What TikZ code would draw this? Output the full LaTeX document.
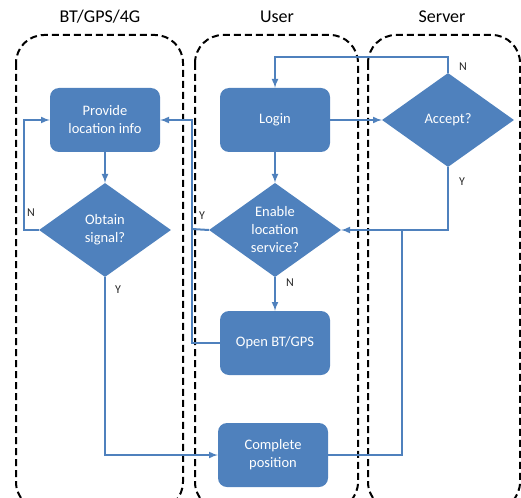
\documentclass[tikz,border=0pt]{standalone}
\usepackage{fontspec}
\setmainfont{Carlito}
\usetikzlibrary{shapes.geometric,arrows}
\begin{document}
\begin{tikzpicture}[x=1pt,y=-1pt,
  lane/.style={black,line width=2pt,dash pattern=on 7pt off 4pt,rounded corners=28pt},
  procbox/.style={fill=boxblue,rounded corners=9pt,minimum width=110pt,minimum height=64pt,text=white,align=center,font=\fontsize{14.5}{18}\selectfont},
  decide/.style={diamond,fill=boxblue,minimum width=132pt,minimum height=94pt,inner sep=0pt,text=white,align=center,font=\fontsize{14.5}{18}\selectfont},
  flow/.style={boxblue,line width=2pt,-latex},
  link/.style={boxblue,line width=2pt},
  yn/.style={text=black!85,font=\fontsize{12}{14}\selectfont},
  lanetitle/.style={font=\fontsize{18}{21}\selectfont}]
  \definecolor{boxblue}{HTML}{4F81BD}
  \useasboundingbox (0,0) rectangle (521,497);
  \clip (0,0) rectangle (521,497);
  \draw [lane] (16,35) rectangle (183,510);
  \draw [lane] (195,35) rectangle (358,510);
  \draw [lane] (368,35) rectangle (520,510);
  \node [lanetitle] (tbt) at (100,17) {BT/GPS/4G};
  \node [lanetitle] (tuser) at (277,17) {User};
  \node [lanetitle] (tserver) at (442,17) {Server};
  \node [procbox] (provide) at (105,120) {Provide\\location info};
  \node [decide] (obtain) at (105,230) {Obtain\\signal?};
  \node [procbox] (login) at (275,120) {Login};
  \node [decide] (enable) at (275,230) {Enable\\location\\service?};
  \node [procbox] (openbt) at (275,343) {Open BT/GPS};
  \node [procbox] (complete) at (273,455) {Complete\\position};
  \node [decide] (accept) at (448,120) {Accept?};
  \coordinate (nloop) at (24,120);
  \coordinate (ntop) at (448,57);
  \coordinate (yjoin) at (192,229);
  \coordinate (cjoin) at (402,229);
  \draw [flow] (provide) -- (obtain);
  \draw [flow] (obtain.west) -| (nloop) -- (provide.west);
  \draw [flow] (obtain.south) |- (complete.west);
  \draw [flow] (login) -- (enable);
  \draw [flow] (login) -- (accept);
  \draw [flow] (accept.north) -- (ntop) -| (login.north);
  \draw [flow] (accept.south) |- (enable.east);
  \draw [flow] (enable) -- (openbt);
  \draw [link] (enable.west) -- (yjoin);
  \draw [flow] (openbt.west) -| (yjoin) |- (provide.east);
  \draw [link] (complete.east) -| (cjoin);
  \node [yn] (obtainn) at (31,213) {N};
  \node [yn] (obtainy) at (118,290) {Y};
  \node [yn] (enabley) at (202,216) {Y};
  \node [yn] (enablen) at (290,283) {N};
  \node [yn] (acceptn) at (463,67) {N};
  \node [yn] (accepty) at (462,182) {Y};
\end{tikzpicture}
\end{document}
